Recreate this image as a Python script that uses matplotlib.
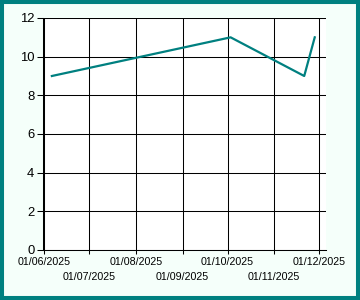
import datetime as dt
import matplotlib
matplotlib.use("Agg")
import matplotlib.pyplot as plt
import matplotlib.dates as mdates
from matplotlib.patches import Rectangle

# data
dates = ["2025-06-06", "2025-10-03", "2025-11-21", "2025-11-28"]
values = [9, 11, 9, 11]
tick_dates = ["2025-06-01", "2025-07-01", "2025-08-01", "2025-09-01",
              "2025-10-01", "2025-11-01", "2025-12-01"]
tick_labels = ["01/06/2025", "01/07/2025", "01/08/2025", "01/09/2025",
               "01/10/2025", "01/11/2025", "01/12/2025"]
y_ticks = [0, 2, 4, 6, 8, 10, 12]

teal = "#008080"
plt.rcParams["font.family"] = ["Liberation Sans", "DejaVu Sans"]

x = [dt.datetime.strptime(d, "%Y-%m-%d") for d in dates]
xt = [mdates.date2num(dt.datetime.strptime(d, "%Y-%m-%d")) for d in tick_dates]

fig = plt.figure(figsize=(3.6, 3.0), dpi=100, facecolor="#F5FFFA")
ax = fig.add_axes([43.3 / 360, 50 / 300, 282.7 / 360, 232 / 300])
ax.set_facecolor("white")

ax.plot(x, values, color=teal, lw=1.6, zorder=3)

ax.set_xlim(xt[0] - 0.7, xt[-1] + 4.5)
ax.set_ylim(0, 12)
ax.set_xticks(xt)
ax.set_xticklabels(tick_labels, fontsize=7.7)
ax.set_yticks(y_ticks)
ax.set_yticklabels([str(v) for v in y_ticks], fontsize=9.4)

ax.grid(True, color="black", lw=0.75)
ax.set_axisbelow(True)
for s in ["top", "right"]:
    ax.spines[s].set_visible(False)
for s in ["left", "bottom"]:
    ax.spines[s].set_color("black")
    ax.spines[s].set_linewidth(0.75)

ax.tick_params(axis="x", length=3, width=0.75, pad=2)
ax.tick_params(axis="y", length=4, width=0.75, pad=2.5)
for i, t in enumerate(ax.xaxis.get_major_ticks()):
    if i % 2 == 1:
        t.set_pad(13)

# teal frame round the whole picture
fig.add_artist(Rectangle((0, 0), 1, 1, transform=fig.transFigure, fill=False,
                         edgecolor=teal, lw=5.8))

fig.savefig("out.png", dpi=100)
